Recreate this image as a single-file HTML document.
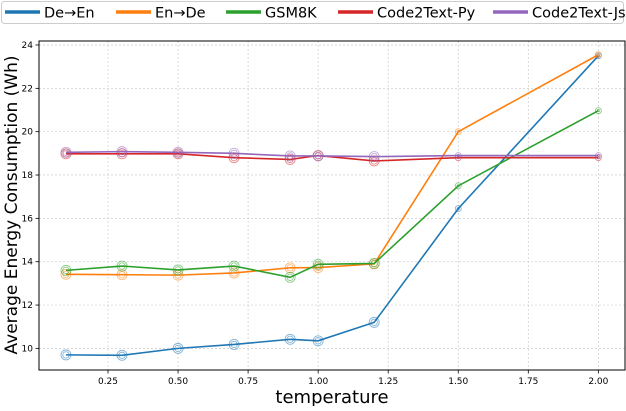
<!DOCTYPE html>
<html><head><meta charset="utf-8"><style>
body{margin:0;background:#fff;width:626px;height:406px;overflow:hidden}
svg{font-family:"DejaVu Sans","Liberation Sans",sans-serif}
</style></head><body>
<svg id="chart" width="626" height="406"></svg>
<script>
const temps=[0.1,0.3,0.5,0.7,0.9,1.0,1.2,1.5,2.0];
const deEn=[9.7,9.68,10.0,10.18,10.42,10.35,11.2,16.45,23.5];
const enDe=[13.42,13.4,13.38,13.48,13.72,13.73,13.9,20.0,23.55];
const gsm8k=[13.6,13.8,13.62,13.8,13.28,13.88,13.92,17.5,20.97];
const codePy=[18.98,18.98,18.98,18.8,18.72,18.9,18.65,18.8,18.8];
const codeJs=[19.05,19.08,19.05,19.0,18.88,18.88,18.85,18.9,18.9];
const xTicks=[0.25,0.5,0.75,1.0,1.25,1.5,1.75,2.0];
const xTickLabels=["0.25","0.50","0.75","1.00","1.25","1.50","1.75","2.00"];
const yTicks=[10,12,14,16,18,20,22,24];
const seriesNames=["De→En","En→De","GSM8K","Code2Text-Py","Code2Text-Js"];

const NS="http://www.w3.org/2000/svg";
const svg=document.getElementById('chart');
const L=39,R=625,T=41,B=370;
function xs(v){return 108+(v-0.25)*280.2;}
function ys(v){return 45+(24-v)*21.67;}
function mk(tag,attrs,parent){const e=document.createElementNS(NS,tag);for(const k in attrs)e.setAttribute(k,attrs[k]);(parent||svg).appendChild(e);return e;}

const grid=mk('g',{});


xTicks.forEach((t,i)=>{
  mk('line',{x1:xs(t),x2:xs(t),y1:T,y2:B,stroke:'#ccc','stroke-dasharray':'2,2','stroke-width':0.7},grid);
  mk('line',{x1:xs(t),x2:xs(t),y1:B,y2:B+3.5,stroke:'#000','stroke-width':0.8},grid);
  const tx=mk('text',{x:xs(t),y:B+14,'font-size':9,'text-anchor':'middle',fill:'#000'});
  tx.textContent=xTickLabels[i];
  
  
});
yTicks.forEach(t=>{
  mk('line',{x1:L,x2:R,y1:ys(t),y2:ys(t),stroke:'#ccc','stroke-dasharray':'2,2','stroke-width':0.7},grid);
  mk('line',{x1:L-3.5,x2:L,y1:ys(t),y2:ys(t),stroke:'#000','stroke-width':0.8},grid);
  const tx=mk('text',{x:L-6,y:ys(t)+3,'font-size':9,'text-anchor':'end',fill:'#000'});
  tx.textContent=t;
  
  
});
const frame=mk('rect',{x:L,y:T,width:R-L,height:B-T,fill:'none',stroke:'#000','stroke-width':1});



const allSeries=[deEn,enDe,gsm8k,codePy,codeJs];
const colors=['#1f77b4','#ff7f0e','#2ca02c','#d62728','#9467bd'];
allSeries.forEach((s,si)=>{
  const g=mk('g',{});
  
  
  const pts=s.map((v,i)=>xs(temps[i])+','+ys(v)).join(' ');
  mk('polyline',{points:pts,fill:'none',stroke:colors[si],'stroke-width':1.6},g);
  s.forEach((v,i)=>{
    const r=i<7?5:3;
    [r,r-1.8].forEach(rr=>{
      const c=mk('circle',{cx:xs(temps[i]),cy:ys(v),r:rr,fill:'none',stroke:colors[si],'stroke-width':0.9,'stroke-opacity':0.55},g);
      
      
    });
  });
});

const yl=mk('text',{x:0,y:0,'font-size':17,'text-anchor':'middle',transform:'translate(17,205) rotate(-90)',fill:'#000'});
yl.textContent='Average Energy Consumption (Wh)';


const xl=mk('text',{x:(L+R)/2,y:403,'font-size':18,'text-anchor':'middle',fill:'#000'});
xl.textContent='temperature';



const lg=mk('g',{});


mk('rect',{x:1.5,y:1.5,width:622,height:22,rx:3,fill:'#fff',stroke:'#ccc','stroke-width':1},lg);
const lx=[5,116,226,338,493];
seriesNames.forEach((n,i)=>{
  const e=mk('g',{},lg);
  
  
  mk('line',{x1:lx[i],x2:lx[i]+35,y1:12,y2:12,stroke:colors[i],'stroke-width':3.5},e);
  const t=mk('text',{x:lx[i]+39,y:17.5,'font-size':14.5,fill:'#000'},e);
  t.textContent=n;
});
</script>
</body></html>
